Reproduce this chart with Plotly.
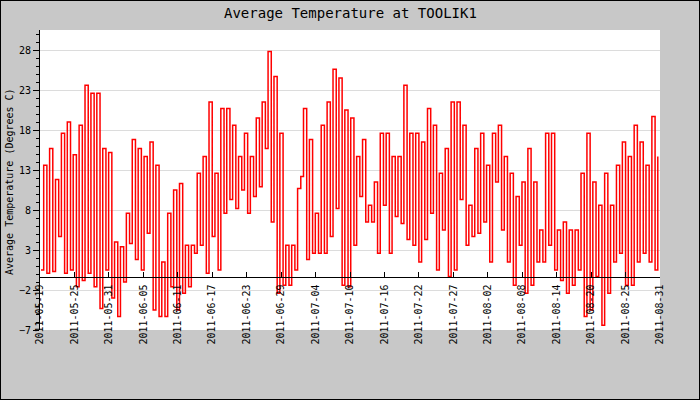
import pandas as pd
import plotly.graph_objects as go

# ---- data (one min and one max per day, starting 2011-05-19) ----
start_date = "2011-05-19"
end_date = "2011-09-01"

daily_max = [13.6, 15.7, 11.8, 17.6, 19.0, 14.9, 18.6, 23.6, 22.6, 22.6,
             15.7, 15.2, 4.0, 3.4, 7.6, 16.8, 15.7, 14.7, 16.5, 13.6,
             1.5, 7.6, 10.5, 11.3, 3.6, 3.6, 12.6, 14.7, 21.5, 12.6,
             20.7, 20.7, 18.6, 14.7, 17.6, 14.7, 19.5, 21.5, 27.8, 24.7,
             17.6, 3.6, 3.6, 10.7, 20.7, 16.8, 7.6, 18.6, 21.5, 25.6,
             24.5, 20.5, 19.5, 14.7, 16.8, 8.6, 11.5, 17.6, 17.6, 14.7,
             14.7, 23.6, 17.6, 17.6, 16.5, 20.7, 18.6, 12.6, 15.7, 21.5,
             21.5, 18.6, 8.6, 15.7, 17.6, 13.6, 17.6, 18.6, 14.7, 12.6,
             9.7, 11.5, 15.7, 11.5, 5.5, 17.6, 17.6, 5.5, 6.5, 5.5,
             5.5, 12.6, 17.6, 11.5, 8.6, 12.6, 8.6, 13.6, 16.5, 14.7,
             18.6, 16.5, 13.6, 19.7, 14.7]

daily_min = [0.5, 0.1, 0.3, 4.7, 0.1, 0.5, -1.6, -0.8, 0.1, -1.6,
             -4.3, 0.5, -3.0, -5.3, -1.0, 3.8, 1.8, 0.5, 5.1, -4.5,
             -5.3, -5.3, -1.6, -4.5, -2.4, -1.6, 2.6, 3.6, 0.1, 4.7,
             0.5, 7.6, 9.3, 8.2, 10.5, 7.6, 9.7, 10.9, 15.7, 6.5,
             -2.4, -1.4, -1.4, 0.5, 12.2, 1.8, 2.6, 2.6, 2.6, 4.7,
             8.2, -1.4, -1.6, 3.6, 9.7, 6.5, 6.5, 2.6, 8.6, 2.6,
             7.2, 6.3, 4.3, 3.6, 1.5, 4.3, 7.6, 0.5, 5.5, -0.3,
             0.5, 9.3, 3.6, 4.7, 5.1, 6.5, 1.5, 11.5, 5.5, 1.5,
             -1.4, 3.6, -2.4, -1.4, 1.5, 1.5, 3.6, 0.5, -0.8, -2.4,
             -1.4, 0.5, -5.3, -4.5, -0.3, -6.4, -2.4, 1.5, 2.6, -1.4,
             -1.4, 1.5, 2.6, 1.5, 0.5]

tick_labels = ["2011-05-19", "2011-05-25", "2011-05-31", "2011-06-05", "2011-06-11",
               "2011-06-17", "2011-06-23", "2011-06-29", "2011-07-04", "2011-07-10",
               "2011-07-16", "2011-07-22", "2011-07-27", "2011-08-02", "2011-08-08",
               "2011-08-14", "2011-08-20", "2011-08-25", "2011-08-31"]

title_text = "Average Temperature at TOOLIK1"
y_title = "Average Temperature (Degrees C)"

# ---- build time series (min in early morning, max in afternoon) ----
days = pd.date_range(start_date, periods=len(daily_max), freq="D")
times, temps = [], []
for d, lo, hi in zip(days, daily_min, daily_max):
    times.append(d + pd.Timedelta(hours=4))
    temps.append(lo)
    times.append(d + pd.Timedelta(hours=15))
    temps.append(hi)

tick_vals = pd.date_range(start_date, end_date, periods=len(tick_labels))

Y_MIN, Y_MAX = -7, 30.5
AXIS_AT = -0.42
FONT = "DejaVu Sans Mono"

fig = go.Figure()
fig.add_trace(go.Scatter(x=times, y=temps, mode="lines",
                         line=dict(color="#ff0000", width=1.5, shape="hv"),
                         hoverinfo="skip", showlegend=False))

W, H = 700, 400
L, R, T, B = 40, 40, 30, 70
pw, ph = W - L - R, H - T - B

fig.update_layout(
    width=W, height=H,
    margin=dict(l=L, r=R, t=T, b=B, autoexpand=False),
    paper_bgcolor="#c8c8c8",
    plot_bgcolor="#ffffff",
    font=dict(family=FONT, size=10, color="#000000"),
    showlegend=False,
    xaxis=dict(
        range=[start_date, end_date],
        anchor="free",
        position=(AXIS_AT - Y_MIN) / (Y_MAX - Y_MIN),
        tickmode="array", tickvals=tick_vals, ticktext=tick_labels,
        tickangle=-90,
        ticks="inside", ticklen=5, tickcolor="#000000", tickwidth=1,
        showline=True, linecolor="#000000", linewidth=1,
        showgrid=False, zeroline=False,
        tickfont=dict(family=FONT, size=10, color="#000000"),
        ticklabelstandoff=2,
    ),
    yaxis=dict(
        range=[Y_MIN, Y_MAX],
        tickmode="linear", tick0=-7, dtick=5,
        ticks="outside", ticklen=6, tickcolor="#000000",
        showline=True, linecolor="#000000", linewidth=1,
        showgrid=True, gridcolor="#dcdcdc", gridwidth=1,
        zeroline=False,
        tickfont=dict(family=FONT, size=10, color="#000000"),
        minor=dict(tick0=-7, dtick=1, ticks="outside", ticklen=3,
                   tickcolor="#000000", showgrid=False),
    ),
    annotations=[
        dict(text=title_text, xref="paper", yref="paper",
             x=(350 - L) / pw, y=1 + (T - 13) / ph,
             xanchor="center", yanchor="middle", showarrow=False,
             font=dict(family=FONT, size=14, color="#000000")),
        dict(text=y_title, xref="paper", yref="paper",
             x=(10 - L) / pw, y=(H - B - 182) / ph,
             xanchor="center", yanchor="middle", textangle=-90, showarrow=False,
             font=dict(family=FONT, size=10, color="#000000")),
    ],
    shapes=[
        dict(type="rect", xref="paper", yref="paper",
             x0=-L / pw, x1=1 + R / pw, y0=-B / ph, y1=1 + T / ph,
             line=dict(color="#000000", width=2), layer="above"),
    ],
)

fig.write_html("out.html")
